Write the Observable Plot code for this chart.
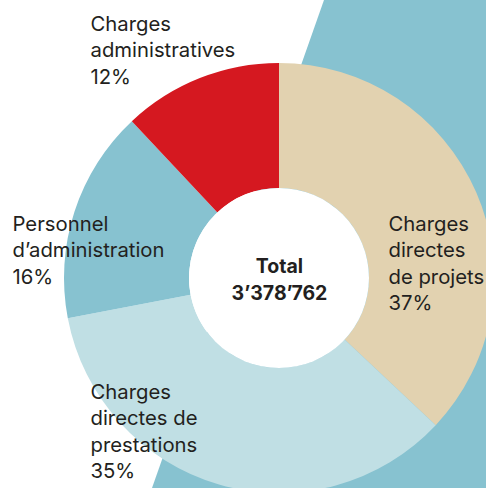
<!DOCTYPE html>
<html>
<head>
<meta charset="utf-8">
<script src="https://cdn.jsdelivr.net/npm/d3@7"></script>
<script src="https://cdn.jsdelivr.net/npm/@observablehq/plot@0.6"></script>
<style>
  html, body { margin: 0; padding: 0; background: #fff; }
  #wrap { position: relative; width: 486px; height: 488px; overflow: hidden; }
  #band { position: absolute; inset: 0; background: #87c2d0;
          clip-path: polygon(324px 0, 486px 0, 486px 488px, 152px 488px); }
  #chart { position: absolute; left: 0; top: 0; }
</style>
</head>
<body>
<div id="wrap"><div id="band"></div><div id="chart"></div></div>
<script>
// ---- data ----
const categories = [
  "Charges directes de projets",
  "Charges directes de prestations",
  "Personnel d’administration",
  "Charges administratives"
];
const shares = [37, 35, 16, 12];
const labelLines = [
  ["Charges", "directes", "de projets"],
  ["Charges", "directes de", "prestations"],
  ["Personnel", "d’administration"],
  ["Charges", "administratives"]
];
const sliceColors = ["#e2d2b0", "#c0dfe4", "#87c2d0", "#d51820"];
const totalLabel = "Total";
const totalValue = "3’378’762";

// ---- layout (not data) ----
const W = 486, H = 488;
const cx = 279, cy = 278, rOuter = 215, rInner = 90;
const labelPos = [[388, 226], [90, 394], [12, 226], [90, 26]]; // left x, first baseline
const FS = 20.3, LH = 26.5;
const FONT = "Inter, 'Noto Sans', sans-serif";

const rows = categories.map((c, i) => ({
  category: c, share: shares[i], color: sliceColors[i],
  text: [...labelLines[i], shares[i] + "%"].join("\n"),
  lx: labelPos[i][0], ly: labelPos[i][1] - 0.71 * FS
}));

const pie = d3.pie().value(d => d.share).sort(null)(rows);

function donut(index, scales) {
  const g = d3.create("svg:g");
  const x0 = scales.x(cx), y0 = scales.y(cy);
  const k = scales.x(1) - scales.x(0);
  const arc = d3.arc().innerRadius(rInner * k).outerRadius(rOuter * k);
  g.attr("transform", `translate(${x0},${y0})`);
  g.selectAll("path").data(pie).join("path")
    .attr("d", arc).attr("fill", d => d.data.color);
  g.append("circle").attr("r", rInner * k).attr("fill", "#fff");
  return g.node();
}

const chart = Plot.plot({
  width: W, height: H,
  margin: 0,
  x: {domain: [0, W], range: [0, W], axis: null},
  y: {domain: [0, H], range: [0, H], axis: null},
  style: {background: "transparent", overflow: "visible"},
  marks: [
    donut,
    Plot.text(rows, {
      x: "lx", y: "ly", text: "text",
      textAnchor: "start", lineAnchor: "top", lineHeight: LH / FS,
      fontSize: FS, fontFamily: FONT, fill: "#231f20"
    }),
    Plot.text([totalLabel + "\n" + totalValue], {
      x: () => cx, y: () => cy - 0.5, text: d => d,
      textAnchor: "middle", lineAnchor: "middle", lineHeight: 1.4,
      fontSize: 19.5, fontWeight: 700, fontFamily: FONT, fill: "#231f20"
    })
  ]
});
document.getElementById("chart").appendChild(chart);
</script>
</body>
</html>
